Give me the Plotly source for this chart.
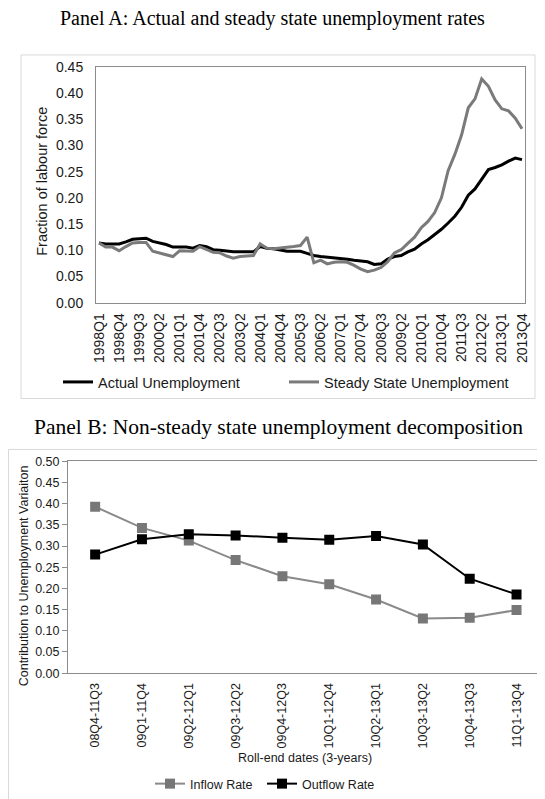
import plotly.graph_objects as go

# The page body has an 8px margin, so the figure is laid out in page pixels minus that offset.
OFF = 8
W, H = 545 - OFF, 799 - OFF

# ---------------- Panel A data ----------------
years = list(range(1998, 2014))
quarters = [f"{y}Q{q}" for y in years for q in range(1, 5)]
tick_labels_a = quarters[::3]

actual = [0.114, 0.112, 0.112, 0.112, 0.116, 0.121, 0.122, 0.123, 0.117, 0.114,
          0.111, 0.106, 0.106, 0.106, 0.104, 0.109, 0.107, 0.101, 0.100, 0.098,
          0.097, 0.097, 0.097, 0.097, 0.107, 0.104, 0.103, 0.101, 0.098, 0.098,
          0.098, 0.094, 0.090, 0.088, 0.087, 0.085, 0.084, 0.083, 0.081, 0.080,
          0.078, 0.073, 0.074, 0.083, 0.088, 0.090, 0.097, 0.102, 0.112, 0.120,
          0.130, 0.140, 0.152, 0.165, 0.182, 0.205, 0.217, 0.235, 0.254, 0.258,
          0.263, 0.270, 0.276, 0.273]

steady = [0.114, 0.106, 0.106, 0.099, 0.107, 0.114, 0.115, 0.115, 0.098, 0.095,
          0.092, 0.088, 0.099, 0.099, 0.098, 0.107, 0.101, 0.096, 0.095, 0.089,
          0.085, 0.088, 0.089, 0.090, 0.112, 0.104, 0.103, 0.104, 0.106, 0.107,
          0.109, 0.125, 0.076, 0.081, 0.074, 0.077, 0.078, 0.077, 0.071, 0.064,
          0.059, 0.062, 0.067, 0.078, 0.095, 0.101, 0.113, 0.125, 0.143, 0.155,
          0.172, 0.200, 0.252, 0.283, 0.320, 0.372, 0.389, 0.427, 0.413, 0.387,
          0.370, 0.366, 0.352, 0.332]

# ---------------- Panel B data ----------------
roll_labels = ["08Q4-11Q3", "09Q1-11Q4", "09Q2-12Q1", "09Q3-12Q2", "09Q4-12Q3",
               "10Q1-12Q4", "10Q2-13Q1", "10Q3-13Q2", "10Q4-13Q3", "11Q1-13Q4"]
inflow = [0.393, 0.343, 0.313, 0.267, 0.229, 0.210, 0.174, 0.129, 0.131, 0.149]
outflow = [0.280, 0.316, 0.328, 0.325, 0.320, 0.315, 0.324, 0.304, 0.223, 0.186]

SANS = "Liberation Sans, Arial, sans-serif"
SERIF = "Liberation Serif, Times New Roman, serif"
GRAY = "#7a7a7a"
AXIS = "#8c8c8c"
TXT = "#1a1a1a"


def px(x):
    return (x - OFF) / W


def py(y):
    return 1 - (y - OFF) / H


fig = go.Figure()
fig.add_trace(go.Scatter(x=quarters, y=actual, mode="lines", name="Actual Unemployment",
                         line=dict(color="black", width=3), xaxis="x", yaxis="y", legend="legend"))
fig.add_trace(go.Scatter(x=quarters, y=steady, mode="lines", name="Steady State Unemployment",
                         line=dict(color=GRAY, width=3), xaxis="x", yaxis="y", legend="legend"))
fig.add_trace(go.Scatter(x=roll_labels, y=inflow, mode="lines+markers", name="Inflow Rate",
                         line=dict(color="#8a8a8a", width=2),
                         marker=dict(symbol="square", size=10, color="#777777"),
                         xaxis="x2", yaxis="y2", legend="legend2"))
fig.add_trace(go.Scatter(x=roll_labels, y=outflow, mode="lines+markers", name="Outflow Rate",
                         line=dict(color="black", width=2),
                         marker=dict(symbol="square", size=10, color="black"),
                         xaxis="x2", yaxis="y2", legend="legend3"))

fig.update_layout(
    width=W, height=H, autosize=False,
    margin=dict(l=0, r=0, t=0, b=0),
    paper_bgcolor="white", plot_bgcolor="white",
    font=dict(family=SANS, color=TXT),
    xaxis=dict(domain=[px(96), px(525)], anchor="y", type="category", automargin=False,
               range=[-0.45, 63.45], tickmode="array", tickvals=tick_labels_a,
               ticktext=tick_labels_a, tickangle=-90, tickfont=dict(size=14),
               ticklabelstandoff=4,
               showline=True, linecolor=AXIS, mirror=True, ticks="", showgrid=False),
    yaxis=dict(domain=[py(303), py(67)], anchor="x", range=[0, 0.45], dtick=0.05,
               automargin=False, ticklabelstandoff=9,
               tickformat=".2f", tickfont=dict(size=14), showgrid=False, zeroline=False,
               showline=True, linecolor=AXIS, mirror=True, ticks=""),
    xaxis2=dict(domain=[px(68), px(539)], anchor="y2", type="category", automargin=False,
                range=[-0.58, 9.48], tickangle=-90, tickfont=dict(size=12.5),
                ticklabelstandoff=4,
                showline=True, linecolor=AXIS, mirror=True, ticks="", showgrid=False),
    yaxis2=dict(domain=[py(674), py(462)], anchor="x2", range=[0, 0.5], dtick=0.05,
                automargin=False,
                tickformat=".2f", tickfont=dict(size=12.5), showgrid=False, zeroline=False,
                showline=True, linecolor=AXIS, mirror=True, ticks="outside", ticklen=5,
                tickcolor=AXIS),
    legend=dict(orientation="h", x=px(58), xanchor="left", y=py(382), yanchor="middle",
                font=dict(size=14.5), bgcolor="rgba(0,0,0,0)",
                entrywidth=181, entrywidthmode="pixels"),
    legend2=dict(orientation="h", x=px(150), xanchor="left", y=py(785), yanchor="middle",
                 font=dict(size=12.5), bgcolor="rgba(0,0,0,0)"),
    legend3=dict(orientation="h", x=px(262), xanchor="left", y=py(785), yanchor="middle",
                 font=dict(size=12.5), bgcolor="rgba(0,0,0,0)"),
    shapes=[
        dict(type="rect", xref="paper", yref="paper", x0=px(21), x1=px(535), y0=py(399), y1=py(55),
             line=dict(color="#d9d9d9", width=1), layer="below"),
        dict(type="rect", xref="paper", yref="paper", x0=px(8.5), x1=px(560), y0=py(830), y1=py(450),
             line=dict(color="#d9d9d9", width=1), layer="below"),
    ],
    annotations=[
        dict(text="Panel A: Actual and steady state unemployment rates", xref="paper", yref="paper",
             x=px(272), y=py(19), xanchor="center", yanchor="middle", showarrow=False,
             font=dict(family=SERIF, size=20, color="black")),
        dict(text="Panel B: Non-steady state unemployment decomposition", xref="paper", yref="paper",
             x=px(278), y=py(428), xanchor="center", yanchor="middle", showarrow=False,
             font=dict(family=SERIF, size=21.5, color="black")),
        dict(text="Fraction of labour force", xref="paper", yref="paper", textangle=-90,
             x=px(42), y=py(182), xanchor="center", yanchor="middle", showarrow=False,
             font=dict(size=14.5, color=TXT)),
        dict(text="Contribution to Unemployment Variaiton", xref="paper", yref="paper", textangle=-90,
             x=px(24), y=py(577), xanchor="center", yanchor="middle", showarrow=False,
             font=dict(size=12.5, color=TXT)),
        dict(text="Roll-end dates (3-years)", xref="paper", yref="paper",
             x=px(305), y=py(759), xanchor="center", yanchor="middle", showarrow=False,
             font=dict(size=12.5, color=TXT)),
    ],
)

fig.write_html("out.html")
